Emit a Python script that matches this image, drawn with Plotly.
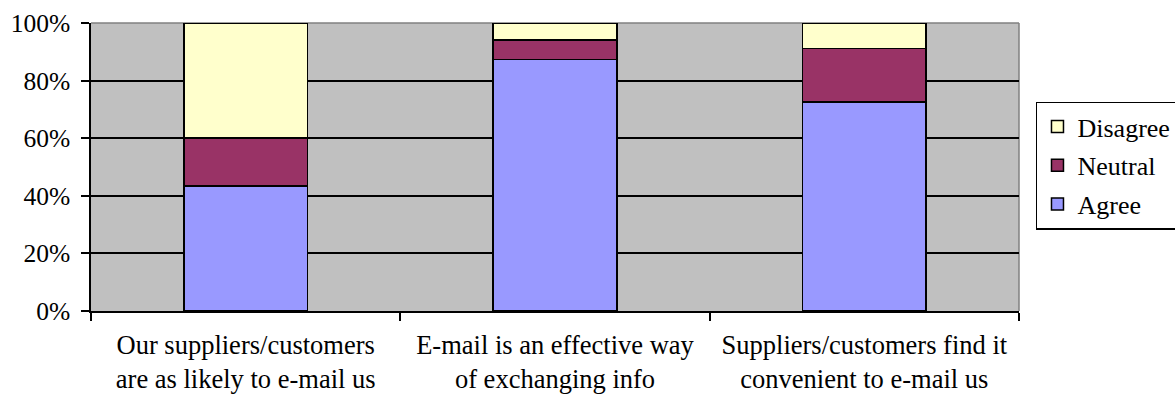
import plotly.graph_objects as go

categories = [
    "Our suppliers/customers<br>are as likely to e-mail us",
    "E-mail is an effective way<br>of exchanging info",
    "Suppliers/customers find it<br>convenient to e-mail us",
]
agree = [43.4, 87.4, 72.5]
neutral = [16.6, 6.7, 18.7]
disagree = [40.0, 5.9, 8.8]

series = [
    ("Agree", agree, "#9999FF", 3),
    ("Neutral", neutral, "#993366", 2),
    ("Disagree", disagree, "#FFFFCC", 1),
]

FONT = "Liberation Serif"

fig = go.Figure()
for name, vals, color, rank in series:
    fig.add_trace(go.Bar(
        x=categories, y=vals, name=name, legendgroup=name, legendrank=rank,
        marker=dict(color=color, line=dict(color="black", width=1.5)),
        width=0.4,
    ))

fig.update_layout(
    barmode="stack",
    width=1175, height=396,
    margin=dict(l=91, r=156, t=23, b=85, autoexpand=False),
    paper_bgcolor="white",
    plot_bgcolor="#C0C0C0",
    font=dict(family=FONT, size=26, color="black"),
    showlegend=True,
    legend=dict(
        x=1.0183, xanchor="left", y=0.727, yanchor="top",
        bgcolor="white", bordercolor="black", borderwidth=1.5,
        traceorder="grouped", tracegroupgap=2,
        font=dict(family=FONT, size=26, color="black"),
    ),
    xaxis=dict(
        type="category", tickson="boundaries", ticks="outside", ticklen=8,
        tickcolor="black", tickwidth=1.5,
        showline=True, linecolor="black", linewidth=1.5,
        showgrid=False, ticklabelstandoff=9,
        tickfont=dict(family=FONT, size=26.5, color="black"),
    ),
    yaxis=dict(
        range=[0, 100], dtick=20, ticksuffix="%",
        ticks="outside", ticklen=8, tickcolor="black", tickwidth=1.5,
        showline=True, linecolor="black", linewidth=1.5,
        showgrid=True, gridcolor="black", gridwidth=1.5,
        zeroline=False, ticklabelstandoff=6,
        tickfont=dict(family=FONT, size=25.5, color="black"),
    ),
    shapes=[
        dict(type="line", xref="paper", yref="paper", x0=0, x1=1, y0=1, y1=1,
             line=dict(color="#808080", width=1.5), layer="below"),
        dict(type="line", xref="paper", yref="paper", x0=1, x1=1, y0=0, y1=1,
             line=dict(color="#808080", width=1.5), layer="below"),
    ],
)

fig.write_html("out.html")
